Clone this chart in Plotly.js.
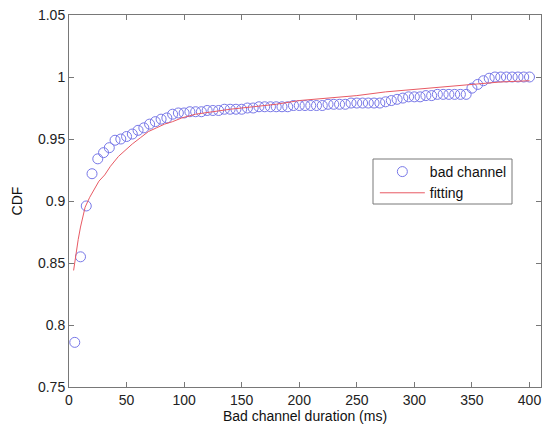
<!DOCTYPE html>
<html>
<head>
<meta charset="utf-8">
<script src="https://cdn.plot.ly/plotly-3.0.1.min.js"></script>
<style>html,body{margin:0;padding:0;background:#fff;}#chart{width:545px;height:428px;}</style>
</head>
<body>
<div id="chart"></div>
<script>
// Measured CDF of bad channel duration (ms)
var durationMs = [5,10,15,20,25,30,35,40,45,50,55,60,65,70,75,80,85,90,95,100,
  105,110,115,120,125,130,135,140,145,150,155,160,165,170,175,180,185,190,195,200,
  205,210,215,220,225,230,235,240,245,250,255,260,265,270,275,280,285,290,295,300,
  305,310,315,320,325,330,335,340,345,350,355,360,365,370,375,380,385,390,395,400];
var cdfValues = [0.786,0.855,0.896,0.922,0.934,0.939,0.943,0.949,0.950,0.952,
  0.954,0.957,0.959,0.962,0.964,0.966,0.967,0.970,0.971,0.971,
  0.972,0.972,0.972,0.973,0.973,0.973,0.974,0.974,0.974,0.974,
  0.975,0.975,0.976,0.976,0.976,0.976,0.976,0.976,0.977,0.977,
  0.977,0.977,0.977,0.977,0.978,0.978,0.978,0.978,0.979,0.979,
  0.979,0.979,0.979,0.979,0.980,0.981,0.982,0.983,0.984,0.984,
  0.984,0.985,0.985,0.986,0.986,0.986,0.986,0.986,0.986,0.991,
  0.994,0.997,0.999,1.000,1.000,1.000,1.000,1.000,1.000,1.000];
// Fitted curve
var fitX = [4,6,8,10,12,14,18,22,26,31,36,43,50,55,62,69,76,83,90,98,110,125,140,160,180,200,225,250,275,300,325,350,375,400];
var fitY = [0.844,0.858,0.869,0.879,0.888,0.895,0.903,0.910,0.916,0.921,0.928,0.936,0.942,0.946,0.951,0.956,0.959,0.962,0.964,0.967,0.970,0.972,0.974,0.976,0.978,0.981,0.983,0.985,0.988,0.990,0.992,0.994,0.996,0.997];
var xTicks = [0,50,100,150,200,250,300,350,400];
var yTicks = [0.75,0.8,0.85,0.9,0.95,1,1.05];
var yTickLabels = ['0.75','0.8','0.85','0.9','0.95','1','1.05'];

var FONT = 'Liberation Sans, Arial, sans-serif';
var traces = [
  {x: durationMs, y: cdfValues, type: 'scatter', mode: 'markers', name: 'bad channel',
   marker: {symbol: 'circle-open', size: 10, color: 'rgb(120,120,232)', line: {width: 1, color: 'rgb(120,120,232)'}}},
  {x: fitX, y: fitY, type: 'scatter', mode: 'lines', name: 'fitting',
   line: {color: 'rgb(232,90,100)', width: 1}}
];
var axisCommon = {
  showgrid: false, zeroline: false, showline: true, mirror: 'ticks',
  linecolor: 'rgb(120,120,120)', linewidth: 1,
  ticks: 'inside', ticklen: 5, tickcolor: 'rgb(120,120,120)',
  tickfont: {family: FONT, size: 14, color: '#222'}
};
var layout = {
  width: 545, height: 428,
  margin: {l: 69, r: 4, t: 15, b: 41},
  paper_bgcolor: '#fff', plot_bgcolor: '#fff',
  showlegend: true,
  legend: {x: 0.648, y: 0.621, xanchor: 'left', yanchor: 'top', itemwidth: 45,
    bgcolor: 'rgba(0,0,0,0)', borderwidth: 0,
    font: {family: FONT, size: 14, color: '#111'}},
  shapes: [{type: 'rect', xref: 'paper', yref: 'paper', layer: 'above',
    x0: (373 - 69) / 472, x1: (512 - 69) / 472, y0: (387 - 204) / 372, y1: (387 - 159) / 372,
    fillcolor: '#fff', line: {color: 'rgb(120,120,120)', width: 1}}],
  xaxis: Object.assign({}, axisCommon, {
    range: [0, 410], tickmode: 'array', tickvals: xTicks,
    title: {text: 'Bad channel duration (ms)', standoff: 3,
      font: {family: FONT, size: 14, color: '#111'}}
  }),
  yaxis: Object.assign({}, axisCommon, {
    range: [0.75, 1.05], tickmode: 'array', tickvals: yTicks, ticktext: yTickLabels,
    title: {text: 'CDF', standoff: 12,
      font: {family: FONT, size: 14, color: '#111'}}
  })
};
Plotly.newPlot('chart', traces, layout, {displayModeBar: false, staticPlot: true});
</script>
</body>
</html>
